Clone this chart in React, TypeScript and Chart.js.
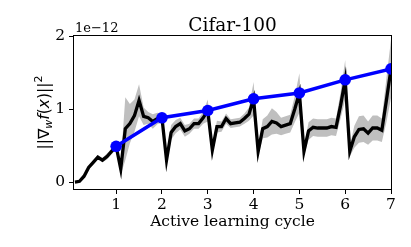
import React, { useEffect, useRef } from "react";
import { Chart, registerables } from "chart.js";

Chart.register(...registerables);

// ---- data (gradient norm, units of 1e-12) ----
const cycleIndex = [1, 2, 3, 4, 5, 6, 7];
const cycleNorm = [0.49, 0.88, 0.98, 1.14, 1.22, 1.4, 1.55];

const stepsPerCycle = 10;
const stepNormMean = [
  0.0, 0.01, 0.08, 0.2, 0.27, 0.34, 0.3, 0.35, 0.42, 0.49,
  0.18, 0.73, 0.8, 0.91, 1.12, 0.9, 0.88, 0.83, 0.87, 0.88,
  0.3, 0.68, 0.76, 0.8, 0.7, 0.73, 0.8, 0.8, 0.88, 0.98,
  0.44, 0.76, 0.76, 0.87, 0.8, 0.81, 0.82, 0.87, 0.93, 1.14,
  0.42, 0.73, 0.76, 0.83, 0.81, 0.76, 0.78, 0.8, 1.0, 1.22,
  0.42, 0.7, 0.75, 0.74, 0.74, 0.74, 0.76, 0.75, 1.05, 1.4,
  0.42, 0.62, 0.72, 0.73, 0.67, 0.74, 0.74, 0.71, 1.12, 1.55,
];
const stepNormStd = [
  0.01, 0.01, 0.02, 0.02, 0.03, 0.03, 0.03, 0.04, 0.04, 0.05,
  0.08, 0.43, 0.27, 0.22, 0.22, 0.12, 0.08, 0.1, 0.08, 0.06,
  0.07, 0.1, 0.09, 0.08, 0.08, 0.07, 0.07, 0.07, 0.08, 0.15,
  0.07, 0.08, 0.07, 0.07, 0.06, 0.06, 0.06, 0.07, 0.09, 0.23,
  0.06, 0.13, 0.15, 0.18, 0.15, 0.12, 0.12, 0.12, 0.18, 0.27,
  0.06, 0.12, 0.12, 0.12, 0.12, 0.12, 0.12, 0.12, 0.18, 0.27,
  0.07, 0.15, 0.18, 0.18, 0.16, 0.17, 0.17, 0.16, 0.3, 0.4,
];

const xTickValues = [1, 2, 3, 4, 5, 6, 7];
const yTickValues = [0, 1, 2];
const titleText = "Cifar-100";
const xAxisTitle = "Active learning cycle";
const offsetText = "1e\u221212";

const X_MIN = 0.08;
const X_MAX = 7;
const Y_MIN = -0.095;
const Y_MAX = 2;

const W = 411;
const H = 247;
const SERIF = '"DejaVu Serif", serif';
const SANS = '"DejaVu Sans", sans-serif';

function drawYTitle(ctx: CanvasRenderingContext2D, cx: number, cy: number) {
  const s = 15.5;
  const parts = [
    { t: "||\u2207", f: `${s}px ${SANS}`, dy: 0 },
    { t: "w", f: `italic ${Math.round(s * 0.7)}px ${SANS}`, dy: s * 0.22 },
    { t: "f", f: `italic ${s}px ${SANS}`, dy: 0 },
    { t: "(", f: `${s}px ${SANS}`, dy: 0 },
    { t: "x", f: `italic ${s}px ${SANS}`, dy: 0 },
    { t: ")||", f: `${s}px ${SANS}`, dy: 0 },
    { t: "2", f: `${Math.round(s * 0.7)}px ${SANS}`, dy: -s * 0.42 },
  ];
  ctx.save();
  ctx.translate(cx, cy);
  ctx.rotate(-Math.PI / 2);
  ctx.fillStyle = "#000";
  ctx.textBaseline = "alphabetic";
  ctx.textAlign = "left";
  let total = 0;
  const widths = parts.map((p) => {
    ctx.font = p.f;
    const w = ctx.measureText(p.t).width;
    total += w;
    return w;
  });
  let x = -total / 2;
  const base = s * 0.36;
  parts.forEach((p, i) => {
    ctx.font = p.f;
    ctx.fillText(p.t, x, base + p.dy);
    x += widths[i];
  });
  ctx.restore();
}

const decorPlugin = {
  id: "decor",
  afterDraw(chart: any) {
    const { ctx, chartArea } = chart;
    const { left, right, top, bottom } = chartArea;
    ctx.save();
    ctx.strokeStyle = "#000";
    ctx.lineWidth = 1;
    ctx.strokeRect(Math.round(left) - 0.5, Math.round(top) - 0.5, Math.round(right - left) + 1, Math.round(bottom - top) + 1);
    ctx.fillStyle = "#000";
    ctx.font = `18.5px ${SERIF}`;
    ctx.textAlign = "center";
    ctx.textBaseline = "alphabetic";
    ctx.fillText(titleText, (left + right) / 2, 30.5);
    ctx.font = `13px ${SERIF}`;
    ctx.textAlign = "left";
    ctx.fillText(offsetText, left + 1, 32);
    ctx.restore();
    drawYTitle(ctx, 43, (top + bottom) / 2);
  },
};

export default function App() {
  const ref = useRef<HTMLCanvasElement | null>(null);

  useEffect(() => {
    document.body.style.margin = "0";
    const canvas = ref.current;
    if (!canvas) return;
    const stepX = stepNormMean.map((_, i) => (i + 1) / stepsPerCycle);
    const meanPts = stepNormMean.map((v, i) => ({ x: stepX[i], y: v }));
    const upperPts = stepNormMean.map((v, i) => ({ x: stepX[i], y: v + stepNormStd[i] }));
    const lowerPts = stepNormMean.map((v, i) => ({ x: stepX[i], y: v - stepNormStd[i] }));
    const cyclePts = cycleNorm.map((v, i) => ({ x: cycleIndex[i], y: v }));

    const chart = new Chart(canvas, {
      type: "line",
      data: {
        datasets: [
          {
            data: cyclePts,
            borderColor: "#0000ff",
            backgroundColor: "#0000ff",
            borderWidth: 3.5,
            pointRadius: 5.8,
            pointBorderWidth: 0,
            pointBackgroundColor: "#0000ff",
            tension: 0,
            order: 0,
            clip: 0,
          } as any,
          {
            data: meanPts,
            borderColor: "#000000",
            borderWidth: 3.3,
            pointRadius: 0,
            tension: 0,
            fill: false,
            order: 1,
            clip: 0,
            borderJoinStyle: "miter",
          } as any,
          {
            data: upperPts,
            borderWidth: 0,
            borderColor: "rgba(0,0,0,0)",
            pointRadius: 0,
            tension: 0,
            fill: false,
            order: 2,
            clip: 0,
          } as any,
          {
            data: lowerPts,
            borderWidth: 0,
            borderColor: "rgba(0,0,0,0)",
            backgroundColor: "#bfbfbf",
            pointRadius: 0,
            tension: 0,
            fill: "-1",
            order: 3,
            clip: 0,
          } as any,
        ],
      },
      options: {
        animation: false,
        responsive: false,
        maintainAspectRatio: false,
        devicePixelRatio: 1,
        layout: { padding: { top: 36, right: 20, left: 0, bottom: 0 } },
        plugins: {
          legend: { display: false },
          tooltip: { enabled: false },
          title: { display: false },
        },
        scales: {
          x: {
            type: "linear",
            min: X_MIN,
            max: X_MAX,
            afterBuildTicks: (s: any) => {
              s.ticks = xTickValues.map((v) => ({ value: v }));
            },
            afterFit: (s: any) => {
              s.height = 58;
            },
            grid: { drawOnChartArea: false, tickLength: 5, color: "#000", tickWidth: 1 },
            border: { display: false },
            ticks: {
              color: "#000",
              padding: 2,
              font: { family: SERIF, size: 15.5 },
              maxRotation: 0,
              autoSkip: false,
              callback: (v: any) => String(v),
            },
            title: {
              display: true,
              text: xAxisTitle,
              color: "#000",
              font: { family: SERIF, size: 15.5 },
              padding: { top: 0, bottom: 16 },
            },
          },
          y: {
            type: "linear",
            min: Y_MIN,
            max: Y_MAX,
            afterBuildTicks: (s: any) => {
              s.ticks = yTickValues.map((v) => ({ value: v }));
            },
            afterFit: (s: any) => {
              s.width = 74;
            },
            grid: { drawOnChartArea: false, tickLength: 5, color: "#000", tickWidth: 1 },
            border: { display: false },
            ticks: {
              color: "#000",
              padding: 4,
              font: { family: SERIF, size: 15.5 },
              autoSkip: false,
              callback: (v: any) => String(v),
            },
          },
        },
      } as any,
      plugins: [decorPlugin],
    });
    return () => chart.destroy();
  }, []);

  return (
    <div style={{ width: W, height: H, background: "#fff" }}>
      <canvas ref={ref} width={W} height={H} style={{ width: W, height: H, display: "block" }} />
    </div>
  );
}
